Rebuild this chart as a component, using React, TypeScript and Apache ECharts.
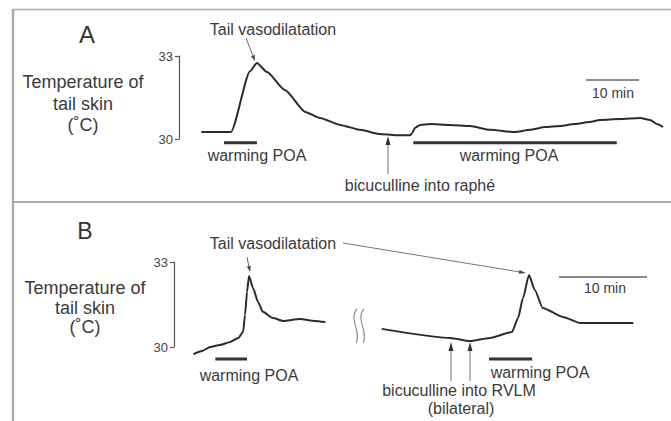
import React, { useEffect, useRef } from "react";
import * as echarts from "echarts";

// Panel A trace: time (min) and tail skin temperature (°C)
const aTime = [4.2, 9.8, 13.4, 14.7, 16.6, 20.0, 23.8, 26.6, 30.4, 34.2, 37.9, 40.8, 43.6, 44.0, 44.5, 45.5, 47.4, 51.1, 54.9, 58.7, 63.4, 66.2, 69.1, 71.9, 74.7, 77.5, 79.4, 83.2, 87.0, 88.9, 90.2, 91.3];
const aTemp = [30.25, 30.25, 32.45, 32.75, 32.42, 31.77, 30.98, 30.76, 30.51, 30.33, 30.18, 30.14, 30.14, 30.22, 30.4, 30.51, 30.54, 30.51, 30.47, 30.33, 30.25, 30.33, 30.43, 30.47, 30.54, 30.61, 30.69, 30.72, 30.76, 30.69, 30.54, 30.43];
// Panel A stimulus periods / scale
const aWarm1 = [8.5, 14.7];
const aWarm2 = [44.2, 82.6];
const aScale = [76.8, 86.8];

// Panel B traces (two segments separated by a break)
const bTime1 = [2.2, 3.2, 4.1, 5.2, 6.4, 7.3, 7.85, 8.07, 8.3, 8.52, 8.98, 9.55, 10.1, 11.25, 12.4, 14.3, 16.0, 17.2];
const bTemp1 = [29.75, 29.86, 30.0, 30.07, 30.18, 30.32, 30.53, 31.13, 31.94, 32.51, 32.08, 31.59, 31.24, 31.02, 30.92, 30.99, 30.92, 30.88];
const bTime2 = [23.6, 31.4, 33.6, 35.9, 38.4, 39.1, 39.66, 40.34, 41.0, 41.9, 44.2, 46.1, 48.1, 52.2];
const bTemp2 = [30.64, 30.32, 30.21, 30.32, 30.53, 31.02, 31.73, 32.54, 32.01, 31.38, 31.06, 30.85, 30.85, 30.85];
const bWarm1 = [4.7, 8.3];
const bWarm2 = [35.8, 40.7];
const bScale = [43.75, 53.75];

const yTicks = [30, 33];

const FONT = '"Liberation Sans", Arial, Helvetica, sans-serif';
const TXT = "#3a3a3a";

const zip = (xs: number[], ys: number[]) => xs.map((x, i) => [x, ys[i]]);

function text(t: string, x: number, y: number, size: number, color = TXT) {
  return {
    type: "text",
    x,
    y,
    style: {
      text: t,
      fill: color,
      fontSize: size,
      fontFamily: FONT,
      align: "center",
      verticalAlign: "middle",
      textAlign: "center",
      textVerticalAlign: "middle",
    },
  };
}

function arrow(x1: number, y1: number, x2: number, y2: number, headLen: number, headW: number, lineColor: string, headColor: string, lw: number) {
  const dx = x2 - x1, dy = y2 - y1;
  const L = Math.hypot(dx, dy);
  const ux = dx / L, uy = dy / L;
  const bx = x2 - ux * headLen, by = y2 - uy * headLen;
  const px = -uy, py = ux;
  return [
    { type: "line", shape: { x1, y1, x2: bx, y2: by }, style: { stroke: lineColor, lineWidth: lw } },
    {
      type: "polygon",
      shape: { points: [[x2, y2], [bx + (px * headW) / 2, by + (py * headW) / 2], [bx - (px * headW) / 2, by - (py * headW) / 2]] },
      style: { fill: headColor },
    },
  ];
}

function segSeries(x: number, xs: number[], y: number, width: number, color: string) {
  return {
    type: "line",
    xAxisIndex: x,
    yAxisIndex: x,
    data: xs.map((v) => [v, y]),
    showSymbol: false,
    symbol: "none",
    clip: false,
    silent: true,
    lineStyle: { color, width, cap: "butt" },
  };
}

export default function App() {
  const ref = useRef<HTMLDivElement>(null);
  useEffect(() => {
    if (!ref.current) return;
    const chart = echarts.init(ref.current, undefined, { renderer: "svg" });
    const yAxisBase = {
      type: "value",
      min: 30,
      max: 33,
      interval: 3,
      splitLine: { show: false },
      axisLine: { show: true, lineStyle: { color: "#555", width: 1.2 } },
      axisTick: { show: true, length: 4, lineStyle: { color: "#555", width: 1.2 } },
      axisLabel: {
        color: "#444",
        fontSize: 13,
        fontFamily: FONT,
        margin: 6,
        formatter: (v: number) => (yTicks.includes(v) ? String(v) : ""),
      },
    };
    const trace = (ax: number, xs: number[], ys: number[]) => ({
      type: "line",
      xAxisIndex: ax,
      yAxisIndex: ax,
      data: zip(xs, ys),
      showSymbol: false,
      symbol: "none",
      smooth: 0.2,
      smoothMonotone: "x",
      clip: false,
      silent: true,
      lineStyle: { color: "#2b2b2b", width: 2 },
    });
    const graphics: any[] = [
      // frame
      { type: "line", shape: { x1: 12, y1: 9.5, x2: 671, y2: 9.5 }, style: { stroke: "#aaa", lineWidth: 1.6 } },
      { type: "line", shape: { x1: 13, y1: 9, x2: 13, y2: 421 }, style: { stroke: "#aaa", lineWidth: 2.4 } },
      { type: "line", shape: { x1: 13, y1: 202, x2: 671, y2: 202 }, style: { stroke: "#aaa", lineWidth: 2 } },
      // Panel A texts
      text("A", 87, 34, 24, "#333"),
      text("Temperature of", 83, 82, 18),
      text("tail skin", 83, 104, 18),
      text("(˚C)", 83, 125, 18),
      text("Tail vasodilatation", 273, 29, 16),
      text("warming POA", 257, 155, 16),
      text("warming POA", 509, 155, 16),
      text("10 min", 613, 93, 14),
      text("bicuculline into raphé", 420, 185, 16),
      ...arrow(246, 38, 255, 61, 6, 4, "#666", "#444", 1),
      ...arrow(388, 174, 388, 136, 9, 5, "#888", "#333", 1.2),
      // Panel B texts
      text("B", 85, 231, 23, "#333"),
      text("Temperature of", 85, 288, 18),
      text("tail skin", 85, 308, 18),
      text("(˚C)", 85, 327, 18),
      text("Tail vasodilatation", 273, 243, 16),
      text("warming POA", 249, 375, 16),
      text("warming POA", 540, 372, 16),
      text("10 min", 605, 288, 14),
      text("bicuculline into RVLM", 459, 390, 16),
      text("(bilateral)", 461, 408, 16),
      ...arrow(247, 257, 250, 272, 6, 4, "#666", "#444", 1),
      ...arrow(343, 243, 526, 273, 7, 4, "#777", "#444", 1),
      ...arrow(451, 381, 451, 342, 9, 5, "#888", "#333", 1.2),
      ...arrow(470, 381, 470, 342, 9, 5, "#888", "#333", 1.2),
      // axis break
      { type: "bezierCurve", shape: { x1: 357, y1: 309, cpx1: 348, cpy1: 318, cpx2: 362, cpy2: 333, x2: 356, y2: 343 }, style: { stroke: "#888", lineWidth: 1.1, fill: null } },
      { type: "bezierCurve", shape: { x1: 364, y1: 309, cpx1: 355, cpy1: 318, cpx2: 369, cpy2: 333, x2: 363, y2: 343 }, style: { stroke: "#888", lineWidth: 1.1, fill: null } },
    ];
    chart.setOption({
      animation: false,
      backgroundColor: "#ffffff",
      grid: [
        { left: 179, top: 56, width: 92 * 5.3, height: 83 },
        { left: 174, top: 262, width: 54 * 8.8, height: 85 },
      ],
      xAxis: [
        { type: "value", gridIndex: 0, min: 0, max: 92, show: false },
        { type: "value", gridIndex: 1, min: 0, max: 54, show: false },
      ],
      yAxis: [
        { ...yAxisBase, gridIndex: 0 },
        { ...yAxisBase, gridIndex: 1 },
      ],
      series: [
        trace(0, aTime, aTemp),
        segSeries(0, aWarm1, 29.86, 3, "#333"),
        segSeries(0, aWarm2, 29.86, 3, "#333"),
        segSeries(0, aScale, 32.13, 1.5, "#666"),
        trace(1, bTime1, bTemp1),
        trace(1, bTime2, bTemp2),
        segSeries(1, bWarm1, 29.58, 3, "#333"),
        segSeries(1, bWarm2, 29.58, 3, "#333"),
        segSeries(1, bScale, 32.47, 1.5, "#666"),
      ],
      graphic: graphics,
    });
    return () => chart.dispose();
  }, []);
  return <div ref={ref} style={{ position: "fixed", left: 0, top: 0, width: 671, height: 421 }} />;
}
